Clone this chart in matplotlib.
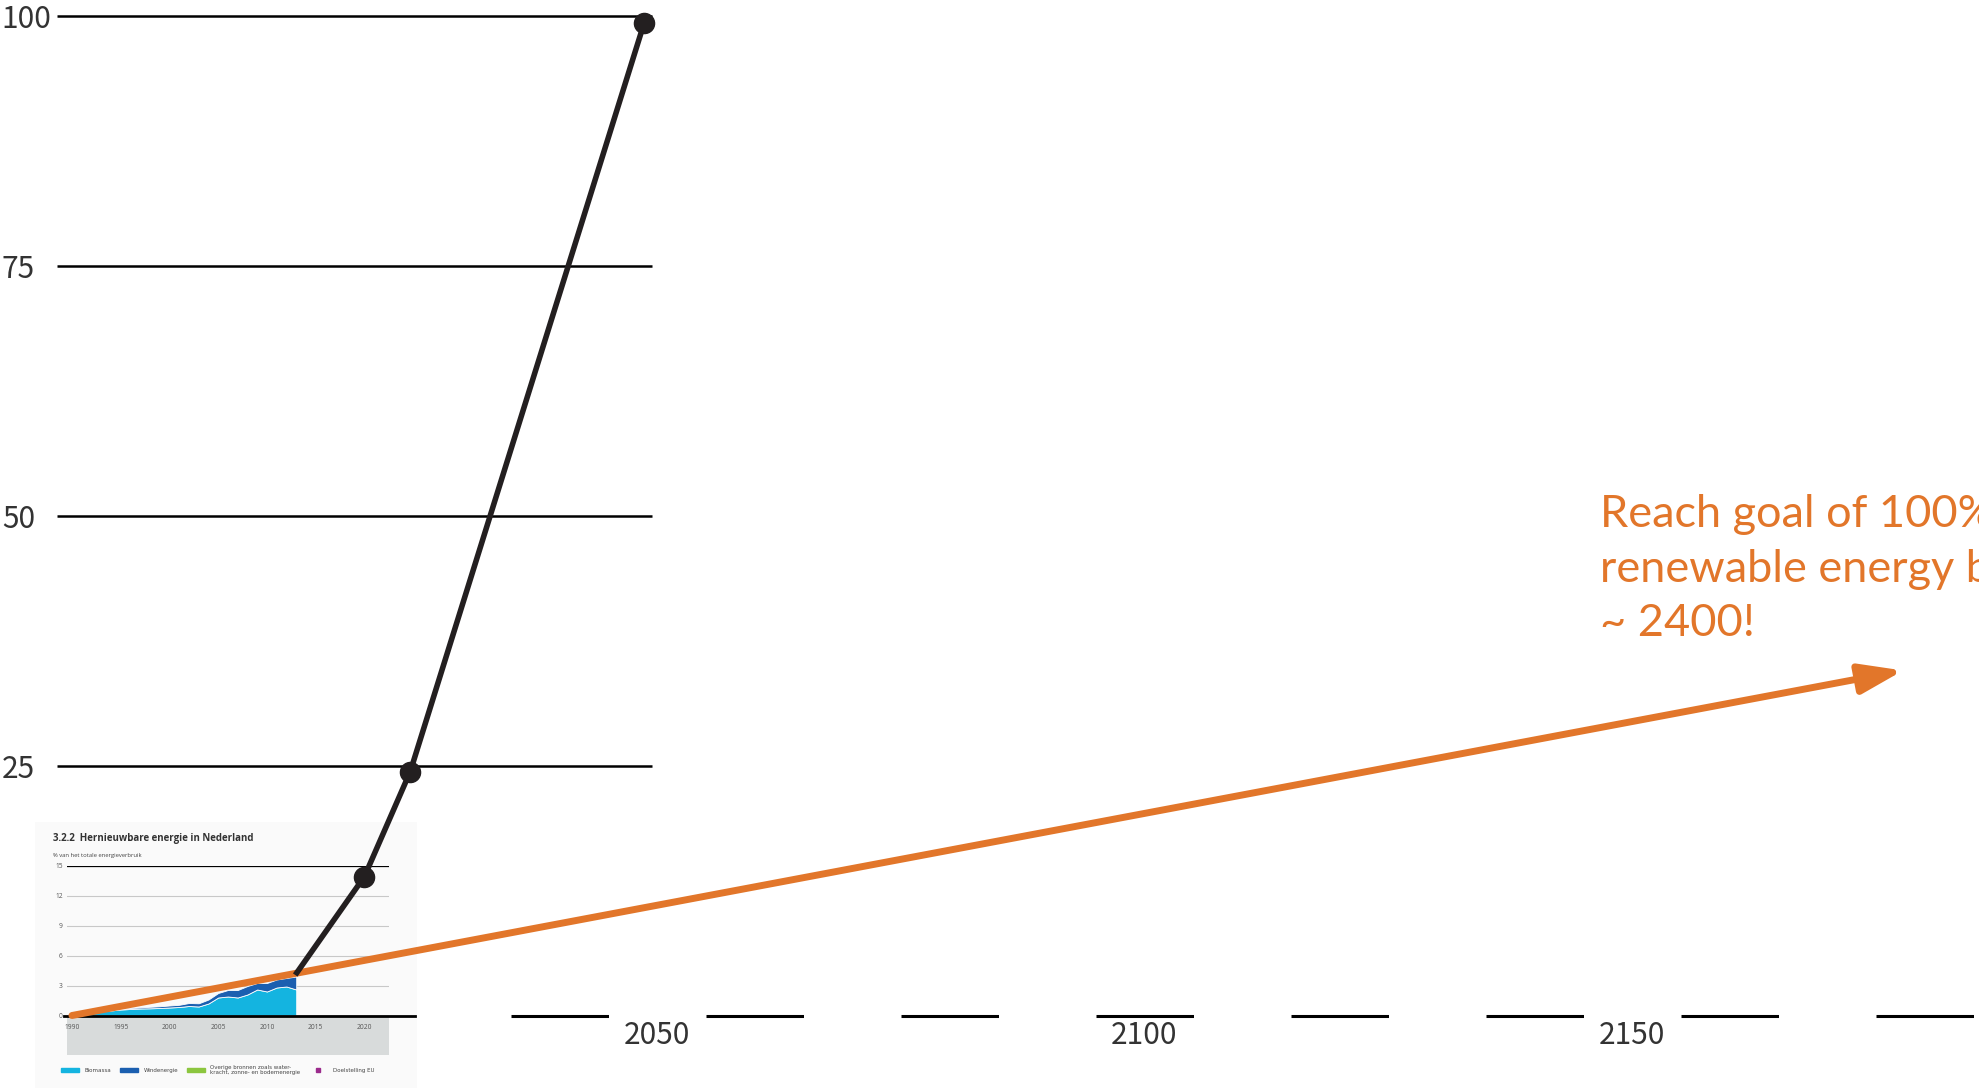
import matplotlib
matplotlib.use("Agg")
import matplotlib.pyplot as plt
from matplotlib.patches import Rectangle, Patch
from matplotlib.lines import Line2D

# main scale: share of renewable energy (%) against year
grid_levels = [25, 50, 75, 100]
year_labels = [2050, 2100, 2150]

# black "required" path and its marked points
path_years = [2012.9, 2020.0, 2024.7, 2048.7]
path_share = [4.05, 13.9, 24.4, 99.3]

# orange trend line (arrow)
trend_years = [1990.0, 2177.8]
trend_share = [0.0, 34.5]

note = "Reach goal of 100%\nrenewable energy by\n~ 2400!"

# inset: 3.2.2 Hernieuwbare energie in Nederland
inset_years = list(range(1990, 2014))
biomassa = [0.30, 0.35, 0.40, 0.45, 0.50, 0.60, 0.65, 0.70, 0.72, 0.75, 0.80, 0.85,
            0.95, 0.90, 1.20, 1.80, 1.90, 1.80, 2.10, 2.60, 2.40, 2.80, 2.90, 2.60]
windenergie = [0.03, 0.03, 0.04, 0.05, 0.05, 0.08, 0.10, 0.12, 0.15, 0.17, 0.20, 0.22,
               0.30, 0.32, 0.40, 0.45, 0.65, 0.75, 0.85, 0.65, 0.85, 0.80, 0.85, 1.30]
inset_yticks = [0, 3, 6, 9, 12, 15]
inset_xticks = [1990, 1995, 2000, 2005, 2010, 2015, 2020]
legend_labels = ["Biomassa", "Windenergie",
                 "Overige bronnen zoals water-\nkracht, zonne- en bodemenergie",
                 "Doelstelling EU"]

orange = "#E2762A"
ink = "#231f20"
num_font = ["Noto Sans CJK SC", "DejaVu Sans"]

plt.rcParams["lines.scale_dashes"] = False

fig = plt.figure(figsize=(19.79, 10.88), dpi=100)
ax = fig.add_axes([0, 0, 1, 1])
ax.set_xlim(1982.62, 2185.59)
ax.set_ylim(-7.25, 101.55)
ax.axis("off")

# horizontal reference lines + labels
for v in grid_levels:
    ax.hlines(v, 1988.5, 2049.5, color="black", lw=1.8, zorder=3)
    ax.text(1982.8, v - 0.35, str(v), ha="left", va="center", fontsize=21.5,
            color="#333333", family=num_font, fontweight="light")

# baseline: solid under the inset, dashed after
ax.plot([1989.2, 2025.2], [0, 0], color="black", lw=2, zorder=6)
ax.plot([2035, 2186], [0, 0], color="black", lw=2.2,
        linestyle=(0, (70.2, 70.2)), solid_capstyle="butt", zorder=3)
for yr in year_labels:
    ax.text(yr, -1.95, str(yr), ha="center", va="center", fontsize=21.5,
            color="#333333", family=num_font, fontweight="light")

# inset panel
ax.add_patch(Rectangle((1986.2, -7.25), 39.2, 26.6, facecolor="#fafafa",
                       edgecolor="none", zorder=0.5))
ax.add_patch(Rectangle((1989.5, -3.95), 33, 3.95, facecolor="#d8dbdb",
                       edgecolor="none", zorder=1))
ax.text(1988.1, 17.75, "3.2.2  Hernieuwbare energie in Nederland", fontsize=7,
        fontweight="bold", color="#333333", va="center", ha="left", family="Open Sans")
ax.text(1988.1, 16.05, "% van het totale energieverbruik", fontsize=4.2,
        color="#444444", va="center", ha="left", family="Open Sans")

iax = ax.inset_axes([1989.5, 0, 33, 15], transform=ax.transData)
iax.set_xlim(1989.5, 2022.5)
iax.set_ylim(0, 15)
iax.patch.set_alpha(0)
iax.stackplot(inset_years, biomassa, windenergie, colors=["#14b4e0", "#1b5fb0"],
              edgecolor="white", linewidth=0.6, zorder=2)
iax.set_yticks(inset_yticks)
iax.set_xticks(inset_xticks)
iax.grid(axis="y", color="#c8c8c8", lw=0.8)
iax.set_axisbelow(True)
iax.axhline(15, color="black", lw=1.6, zorder=3)
for s in iax.spines.values():
    s.set_visible(False)
iax.tick_params(length=0, labelsize=4.8, labelcolor="#555555", pad=3)
iax.tick_params(axis="x", pad=6)
for lbl in iax.get_xticklabels() + iax.get_yticklabels():
    lbl.set_family("Open Sans")

handles = [Patch(color="#14b4e0"), Patch(color="#1b5fb0"), Patch(color="#8cc63f"),
           Line2D([], [], ls="none", marker="s", ms=3, color="#9b2a8c")]
leg = iax.legend(handles, legend_labels, ncol=4, loc="upper left",
                 bbox_to_anchor=(1988.9, -4.9), bbox_transform=ax.transData,
                 frameon=False, fontsize=4, handlelength=3.2, handleheight=0.8,
                 columnspacing=1.6, handletextpad=1.0, borderpad=0, borderaxespad=0)
for t in leg.get_texts():
    t.set_color("#444444")

# orange trend arrow
ax.annotate("", xy=(trend_years[1], trend_share[1]),
            xytext=(trend_years[0], trend_share[0]),
            arrowprops=dict(arrowstyle="-|>,head_length=1.3,head_width=0.45",
                            lw=5, color=orange, shrinkA=0, shrinkB=0,
                            mutation_scale=20),
            zorder=7)

# black path with dots
ax.plot(path_years, path_share, color=ink, lw=4, zorder=8, solid_capstyle="butt")
ax.plot(path_years[1:], path_share[1:], "o", ms=14.5, color=ink, zorder=9)

ax.text(2146.7, 44.65, note, color=orange, fontsize=32.5, family="Lato",
        ha="left", va="center", linespacing=1.42)

fig.savefig("out.png", dpi=100)
